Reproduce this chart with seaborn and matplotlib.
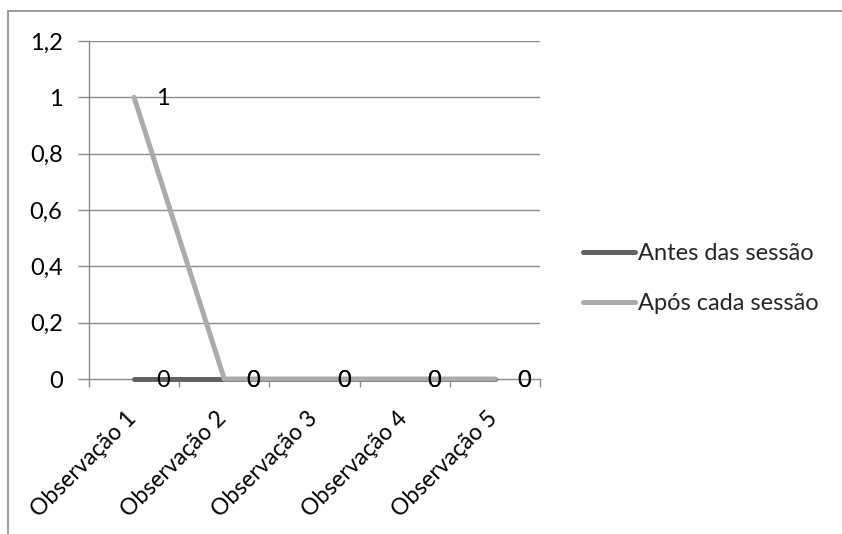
import matplotlib
matplotlib.use("Agg")
import matplotlib.pyplot as plt
from matplotlib.lines import Line2D
import seaborn as sns
import pandas as pd

categories = ["Observação 1", "Observação 2", "Observação 3", "Observação 4", "Observação 5"]
antes = [0, 0, 0, 0, 0]
apos = [1, 0, 0, 0, 0]
series_names = ["Antes das sessão", "Após cada sessão"]
y_ticks = [0, 0.2, 0.4, 0.6, 0.8, 1.0, 1.2]
y_tick_labels = ["0", "0,2", "0,4", "0,6", "0,8", "1", "1,2"]

sns.set_theme(style="white")
plt.rcParams["font.family"] = ["Lato", "DejaVu Sans"]
FS = 17
FS_X = 16.5

rows = []
for name, vals in zip(series_names, [antes, apos]):
    for i, v in enumerate(vals):
        rows.append({"pos": i, "valor": v, "serie": name})
df = pd.DataFrame(rows)

colors = {"Antes das sessão": "#626262", "Após cada sessão": "#ababab"}
LW = 3.6

fig = plt.figure(figsize=(8.42, 5.34), dpi=100)
ax = fig.add_axes([89 / 842, 1 - 379 / 534, (540 - 89) / 842, (379 - 41) / 534])

sns.lineplot(data=df, x="pos", y="valor", hue="serie", palette=colors,
             hue_order=series_names, linewidth=LW, ax=ax, legend=False,
             solid_capstyle="round", sort=False, clip_on=False, zorder=3)

ax.set_xlim(-0.5, len(categories) - 0.5)
ax.set_ylim(0, 1.2)
ax.set_xlabel("")
ax.set_ylabel("")

# gridlines and axes in Excel style
for y in y_ticks[1:]:
    ax.axhline(y, color="#8c8c8c", linewidth=1.0, zorder=0)
for s in ["top", "right"]:
    ax.spines[s].set_visible(False)
for s in ["left", "bottom"]:
    ax.spines[s].set_color("#8c8c8c")
    ax.spines[s].set_linewidth(1.0)
    ax.spines[s].set_zorder(1)

ax.set_yticks(y_ticks)
ax.set_yticklabels(y_tick_labels, fontsize=FS, color="black")
ax.tick_params(axis="y", length=8, width=1, color="#8c8c8c", direction="out", pad=11, left=True)

bounds = [i - 0.5 for i in range(len(categories) + 1)]
ax.set_xticks(bounds)
ax.set_xticklabels([""] * len(bounds))
ax.tick_params(axis="x", length=6, width=1, color="#8c8c8c", direction="out", bottom=True)

# rotated category labels
for i, lab in enumerate(categories):
    ax.annotate(lab, xy=(i, 0), xycoords="data", xytext=(-6, -21),
                textcoords="offset points", rotation=45, ha="right", va="top",
                rotation_mode="anchor", fontsize=FS_X, color="black")

# data labels
for vals in [antes, apos]:
    for i, v in enumerate(vals):
        ax.annotate(f"{v:g}".replace(".", ","), xy=(i, v), xycoords="data",
                    xytext=(21, -1), textcoords="offset points",
                    ha="center", va="center", fontsize=FS, color="black",
                    zorder=5)

# legend
handles = [Line2D([0], [0], color=colors[n], linewidth=LW, solid_capstyle="round")
           for n in series_names]
fig.legend(handles, series_names, loc="upper left",
           bbox_to_anchor=(562 / 842, 1 - 222 / 534), frameon=False,
           fontsize=FS, handlelength=2.2, handletextpad=0.12,
           labelspacing=1.23)

# chart frame
fig.add_artist(Line2D([8 / 842, 8 / 842], [0, 1 - 11 / 534], transform=fig.transFigure,
                      color="#8c8c8c", linewidth=1.2))
fig.add_artist(Line2D([8 / 842, 1], [1 - 11 / 534, 1 - 11 / 534], transform=fig.transFigure,
                      color="#8c8c8c", linewidth=1.2))

fig.savefig("out.png", dpi=100)
